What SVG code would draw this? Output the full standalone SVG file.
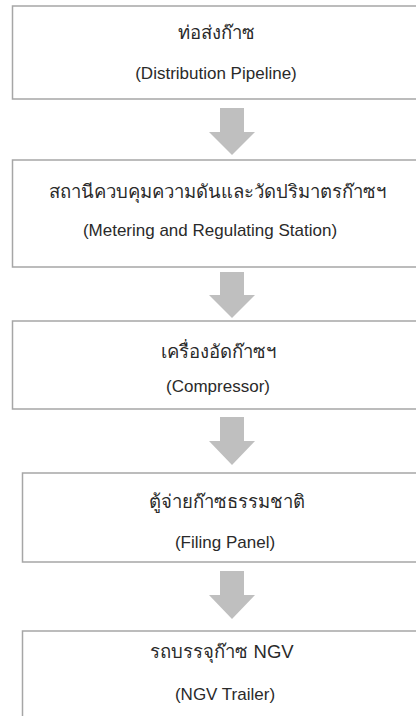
<svg xmlns="http://www.w3.org/2000/svg" width="416" height="716" viewBox="0 0 416 716">
<defs>
<style>
.box{fill:#ffffff;stroke:#a6a6a6;stroke-width:1.5}
.arrow{fill:#bfbfbf}
.t{font-family:"Liberation Sans","Noto Sans",sans-serif;font-size:17px;fill:#2a2a2a;text-anchor:middle}
.th{font-size:18.5px}
</style>
</defs>
<rect width="416" height="716" fill="#ffffff"/>
<g id="connectors">
<path class="arrow" d="M220,108 H244 V132 H255 L232,155 L209,132 H220 Z"/>
<path class="arrow" d="M220,272 H244 V295 H255 L232,318 L209,295 H220 Z"/>
<path class="arrow" d="M220,417 H244 V441 H255 L232,465 L209,441 H220 Z"/>
<path class="arrow" d="M220,571 H244 V595 H255 L232,619 L209,595 H220 Z"/>
</g>
<g id="node1">
<rect class="box" x="12.5" y="6" width="410" height="93"/>
<text class="t th" x="216" y="39">ท่อส่งก๊าซ</text>
<text class="t" x="216" y="79">(Distribution Pipeline)</text>
</g>
<g id="node2">
<rect class="box" x="12.5" y="160" width="410" height="107"/>
<text class="t th" x="217" y="198">สถานีควบคุมความดันและวัดปริมาตรก๊าซฯ</text>
<text class="t" x="210" y="236">(Metering and Regulating Station)</text>
</g>
<g id="node3">
<rect class="box" x="12.5" y="321" width="410" height="88"/>
<text class="t th" x="218" y="358">เครื่องอัดก๊าซฯ</text>
<text class="t" x="218" y="392">(Compressor)</text>
</g>
<g id="node4">
<rect class="box" x="22.5" y="473" width="410" height="89"/>
<text class="t th" x="227" y="508">ตู้จ่ายก๊าซธรรมชาติ</text>
<text class="t" x="225" y="548">(Filing Panel)</text>
</g>
<g id="node5">
<rect class="box" x="22.5" y="631" width="410" height="100"/>
<text class="t th" x="222" y="658">รถบรรจุก๊าซ NGV</text>
<text class="t" x="225" y="700">(NGV Trailer)</text>
</g>
</svg>
